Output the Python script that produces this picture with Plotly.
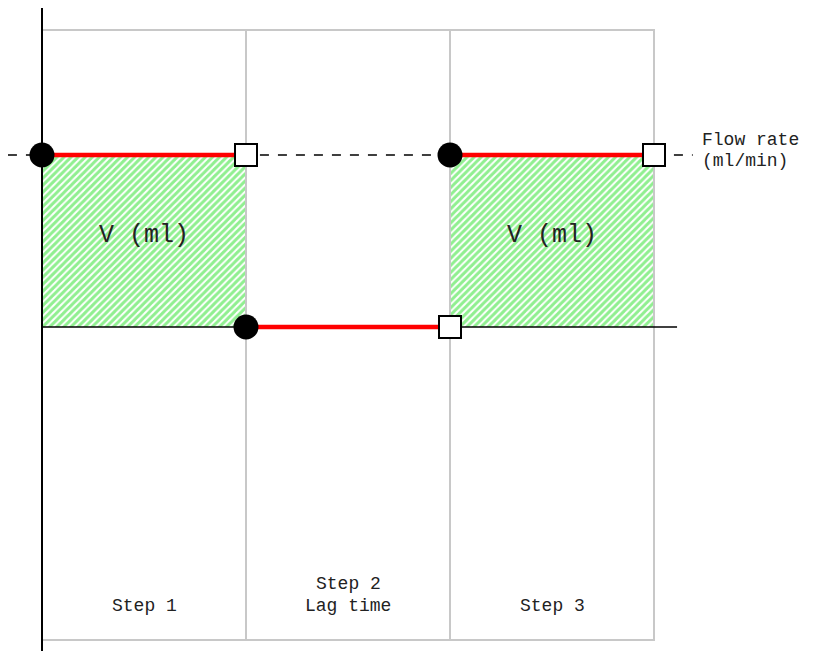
"""
Diagrama de etapas de vazao (flow rate) com tempo de atraso.
"""

import plotly.graph_objects as go

# dados
passos_x = [0, 1, 2, 3]
nivel_vazao = [1, 0, 1]          # nivel de cada etapa (1 = vazao, 0 = base)
volume_etapas = [0, 2]           # indices das etapas com volume preenchido
rotulos_etapas = [["Step 1"], ["Step 2", "Lag time"], ["Step 3"]]
rotulo_volume = "V (ml)"
rotulo_vazao = ["Flow rate", "(ml/min)"]

# limites do quadro (unidades dos dados)
Y_TOPO = 1.727
Y_BASE = -1.82

COR_GRADE = "#c8c8c8"
FONTE = "Liberation Mono, Courier New, monospace"

fig = go.Figure()

# areas hachuradas em verde (volume)
for i in volume_etapas:
    x0, x1 = passos_x[i], passos_x[i + 1]
    fig.add_trace(go.Scatter(
        x=[x0, x1, x1, x0, x0],
        y=[0, 0, nivel_vazao[i], nivel_vazao[i], 0],
        fill="toself",
        mode="none",
        fillcolor="rgba(0,0,0,0)",
        fillpattern=dict(shape="/", fgcolor="#22e022", bgcolor="white",
                         size=5, solidity=0.6),
        hoverinfo="skip",
    ))

# quadro cinza
fig.add_trace(go.Scatter(
    x=[0, 3, 3, 0], y=[Y_TOPO, Y_TOPO, Y_BASE, Y_BASE],
    mode="lines", line=dict(color=COR_GRADE, width=2), hoverinfo="skip",
))
for xv in passos_x[1:3]:
    fig.add_trace(go.Scatter(
        x=[xv, xv], y=[Y_BASE, Y_TOPO],
        mode="lines", line=dict(color=COR_GRADE, width=2), hoverinfo="skip",
    ))

# eixos pretos
fig.add_trace(go.Scatter(
    x=[0, 0], y=[-1.95, 1.855],
    mode="lines", line=dict(color="black", width=2), hoverinfo="skip",
))
fig.add_trace(go.Scatter(
    x=[0, 3.113], y=[0, 0],
    mode="lines", line=dict(color="black", width=1.5), hoverinfo="skip",
))

# linha tracejada de vazao
fig.add_trace(go.Scatter(
    x=[-0.167, 3.19], y=[1, 1],
    mode="lines", line=dict(color="black", width=1.5, dash="dash"),
    hoverinfo="skip",
))

# segmentos vermelhos
for i, nv in enumerate(nivel_vazao):
    fig.add_trace(go.Scatter(
        x=[passos_x[i], passos_x[i + 1]], y=[nv, nv],
        mode="lines", line=dict(color="red", width=4.5), hoverinfo="skip",
    ))

# marcadores: inicio (circulo) e fim (quadrado)
fig.add_trace(go.Scatter(
    x=passos_x[:3], y=nivel_vazao,
    mode="markers",
    marker=dict(symbol="circle", size=25, color="black",
                line=dict(color="black", width=0)),
    hoverinfo="skip",
))
fig.add_trace(go.Scatter(
    x=passos_x[1:], y=nivel_vazao,
    mode="markers",
    marker=dict(symbol="square", size=22, color="white",
                line=dict(color="black", width=2)),
    hoverinfo="skip",
))

# textos
for i in volume_etapas:
    fig.add_annotation(
        x=(passos_x[i] + passos_x[i + 1]) / 2, y=0.53, text=rotulo_volume,
        showarrow=False, font=dict(family=FONTE, size=25, color="#222"),
    )

for i, linhas in enumerate(rotulos_etapas):
    xc = (passos_x[i] + passos_x[i + 1]) / 2
    for j, linha in enumerate(linhas):
        yv = -1.622 + 0.125 * (len(linhas) - 1 - j)
        fig.add_annotation(
            x=xc, y=yv, text=linha, showarrow=False,
            font=dict(family=FONTE, size=18, color="#222"),
        )

for j, linha in enumerate(rotulo_vazao):
    fig.add_annotation(
        x=3.225, y=1.09 - 0.125 * j, text=linha, showarrow=False,
        xanchor="left", font=dict(family=FONTE, size=18, color="#222"),
    )

# a pagina tem margem de 8px no body: o grafico comeca em (8, 8)
fig.update_layout(
    width=802,
    height=643,
    showlegend=False,
    plot_bgcolor="white",
    paper_bgcolor="white",
    margin=dict(l=0, r=0, t=0, b=0),
)
fig.update_xaxes(range=[-34 / 204, 768 / 204], visible=False)
fig.update_yaxes(range=[-324 / 172, 319 / 172], visible=False)

fig.write_html("out.html")
